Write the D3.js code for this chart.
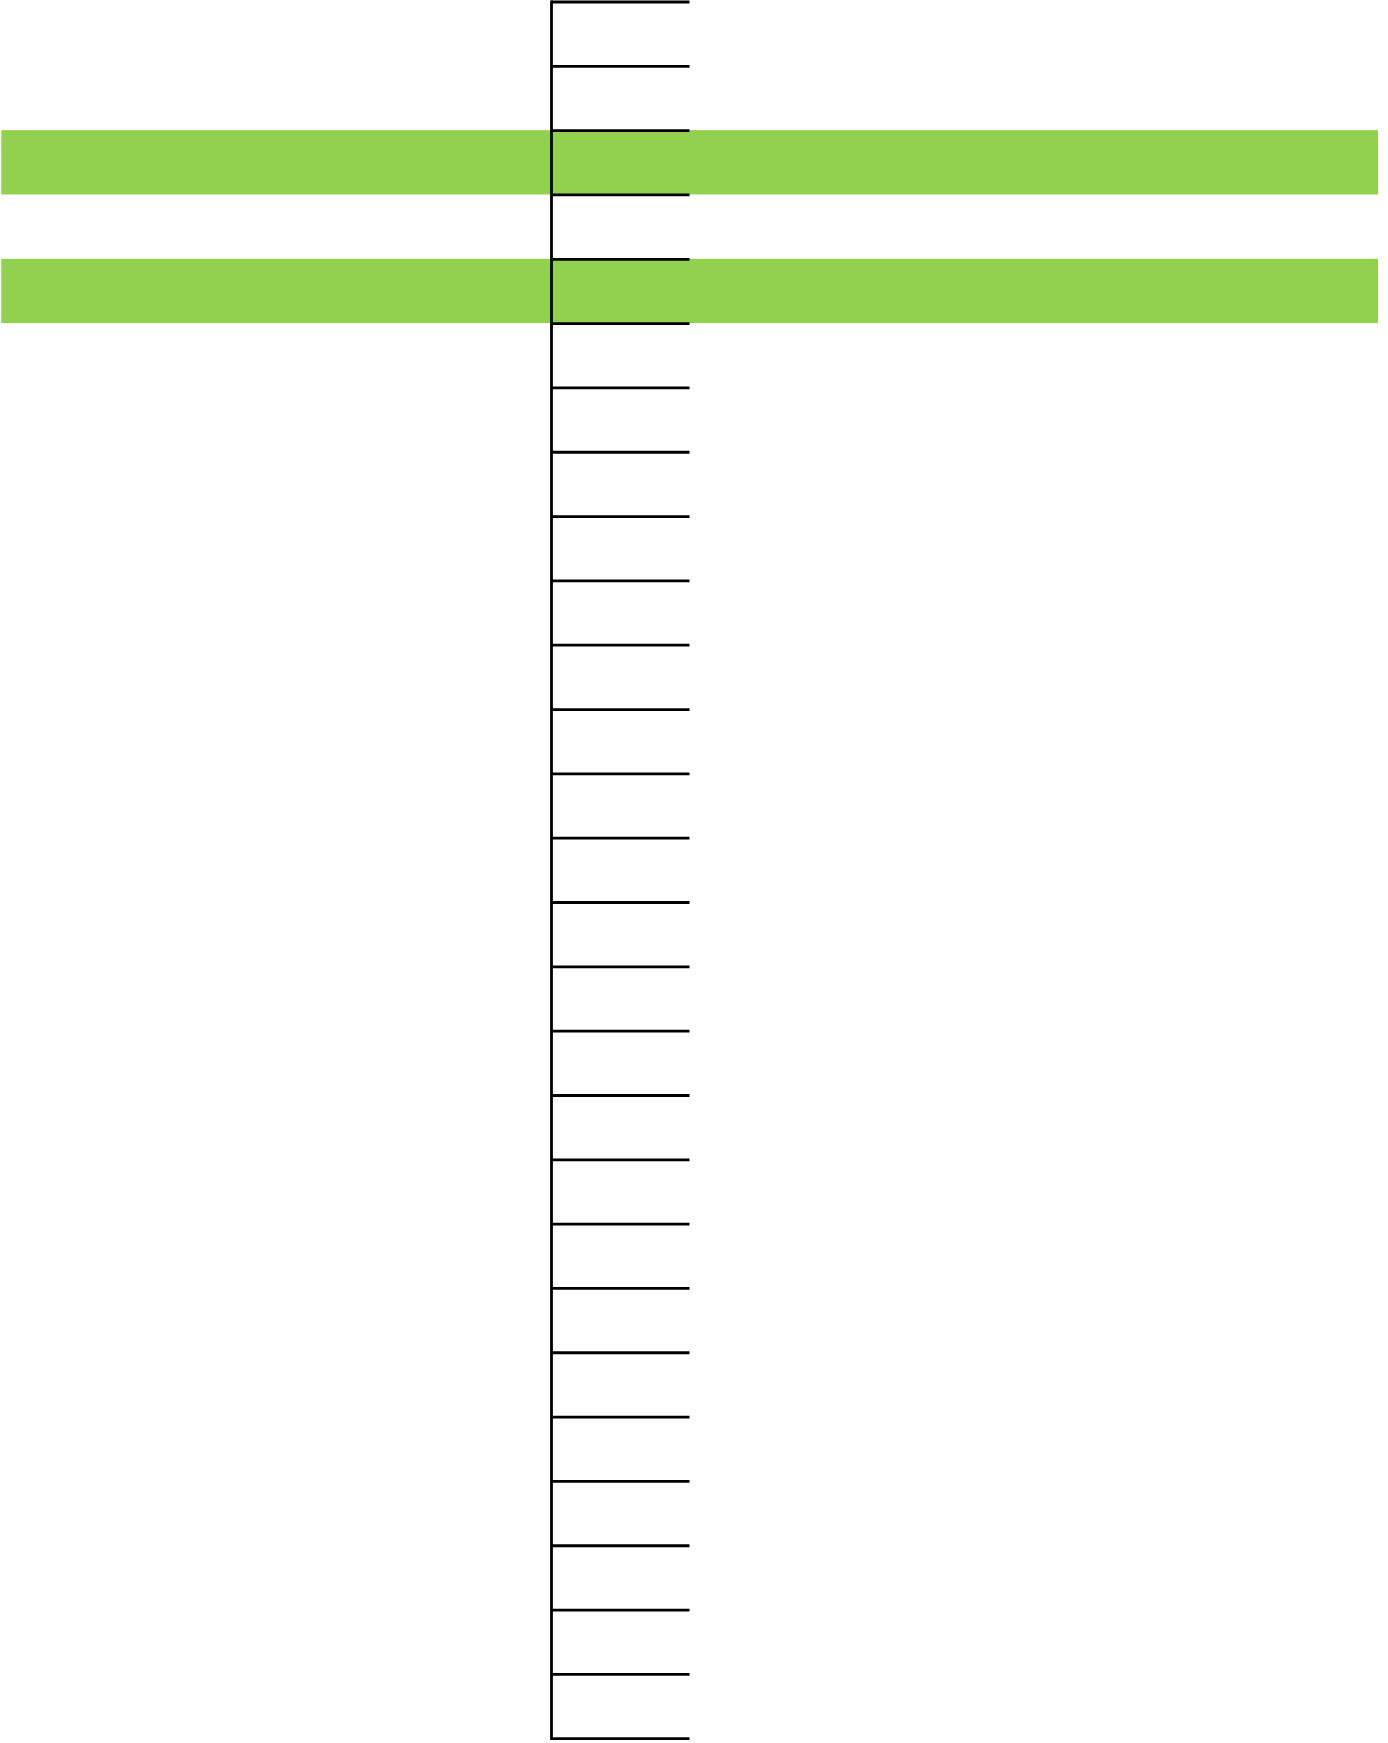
<!DOCTYPE html>
<meta charset="utf-8">
<style>
body { margin: 0; background: #fff; }
.axis path, .axis line { stroke: #000; stroke-width: 2.8px; stroke-linecap: square; }
.axis line { stroke-linecap: butt; }
</style>
<body>
<script src="https://d3js.org/d3.v7.min.js"></script>
<script>
	// 27 rows, two of them highlighted
	var categories = ["1","2","3","4","5","6","7","8","9","10","11","12","13","14","15","16","17","18","19","20","21","22","23","24","25","26","27"];
	var values = [0,0,1,0,1,0,0,0,0,0,0,0,0,0,0,0,0,0,0,0,0,0,0,0,0,0,0];
	var tickValues = d3.range(0, categories.length + 1);

	var barColour = "#92d050";

	var width = 1388,
		height = 1743;

	var barLeft = 1.3, barRight = 1378;
	var axisX = 551.5, tickLength = 138.5;
	var plotTop = 1.5, plotBottom = 1738.2;

	var svg = d3.select("body").append("svg")
		.attr("width", width)
		.attr("height", height);

	var y = d3.scaleBand()
		.domain(categories)
		.range([plotTop, plotBottom])
		.padding(0);

	// boundaries between rows, used for the tick marks
	var yEdge = d3.scaleLinear()
		.domain([0, categories.length])
		.range([plotTop, plotBottom]);

	var x = d3.scaleLinear()
		.domain([0, 1])
		.range([barLeft, barRight]);

	svg.append("g")
		.selectAll("rect")
		.data(categories)
		.enter().append("rect")
			.attr("x", x(0))
			.attr("y", function(d) { return y(d); })
			.attr("width", function(d, i) { return x(values[i]) - x(0); })
			.attr("height", y.bandwidth())
			.attr("fill", barColour);

	svg.append("g")
		.attr("class", "axis")
		.attr("transform", "translate(" + (axisX - 0.5) + ",0)")
		.call(d3.axisRight(yEdge)
			.tickValues(tickValues)
			.tickSize(tickLength)
			.tickSizeOuter(0)
			.tickFormat(""));
</script>
</body>
